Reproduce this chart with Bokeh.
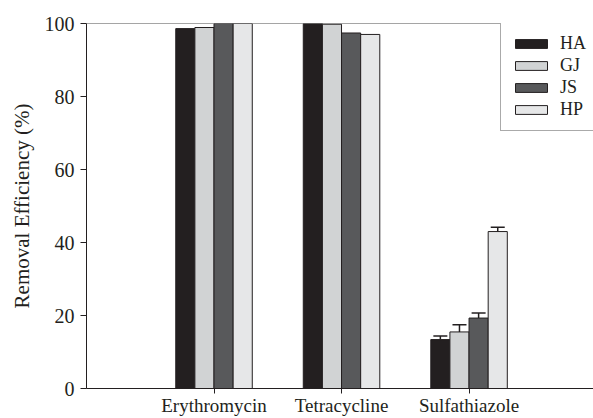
from bokeh.plotting import figure
from bokeh.models import Range1d, FixedTicker, ColumnDataSource, Legend, LegendItem, Span, Whisker, TeeHead
from bokeh.embed import file_html
from bokeh.resources import INLINE

drugs = ["Erythromycin", "Tetracycline", "Sulfathiazole"]
series = ["HA", "GJ", "JS", "HP"]
ha = [98.6, 100.0, 13.4]
gj = [98.9, 99.8, 15.5]
js = [100.0, 97.4, 19.3]
hp = [100.0, 97.0, 43.0]
ha_err = [0, 0, 1.0]
gj_err = [0, 0, 2.0]
js_err = [0, 0, 1.4]
hp_err = [0, 0, 1.2]
colors = ["#231f20", "#d1d3d4", "#58595b", "#e6e7e8"]
y_ticks = [0, 20, 40, 60, 80, 100]

values = [ha, gj, js, hp]
errors = [ha_err, gj_err, js_err, hp_err]

FONT = "Liberation Serif"
INK = "#231f20"
bar_w = 0.15

p = figure(width=593, height=418, output_backend="svg", toolbar_location=None,
           x_range=Range1d(0, 3.976), y_range=Range1d(0, 100),
           min_border_left=86, min_border_top=23, min_border_right=0, min_border_bottom=0)
p.grid.visible = False
p.outline_line_color = None
p.background_fill_color = "white"
p.border_fill_color = "white"

xs_base = [i + 1 for i in range(len(drugs))]
items = []
wx, wl, wu = [], [], []
for k, (name, vals, errs, col) in enumerate(zip(series, values, errors, colors)):
    off = (k - 1.5) * bar_w
    xs = [x + off for x in xs_base]
    src = ColumnDataSource(dict(x=xs, top=vals))
    r = p.vbar(x="x", top="top", width=bar_w, bottom=0, source=src,
               fill_color=col, line_color=INK, line_width=1)
    items.append(LegendItem(label=name, renderers=[r]))
    for x, v, e in zip(xs, vals, errs):
        if e > 0:
            wx.append(x); wl.append(v); wu.append(v + e)

wsrc = ColumnDataSource(dict(x=wx, lower=wl, upper=wu))
p.add_layout(Whisker(base="x", lower="lower", upper="upper", source=wsrc,
                     lower_head=None,
                     upper_head=TeeHead(size=14, line_color=INK, line_width=1.5),
                     line_color=INK, line_width=1.5))

p.add_layout(Span(location=100, dimension="width", line_color="#4d4d4d", line_width=1))

legend = Legend(items=items, location=(414, 257), orientation="vertical",
                border_line_color="#555555", border_line_width=1,
                background_fill_color="white", background_fill_alpha=1,
                padding=10, spacing=1, margin=0,
                glyph_width=40, glyph_height=11, label_standoff=9,
                label_text_font=FONT, label_text_font_size="18px",
                label_text_color=INK, label_height=21, label_width=40)
p.add_layout(legend)

p.xaxis.ticker = FixedTicker(ticks=xs_base)
p.xaxis.major_label_overrides = {x: d for x, d in zip(xs_base, drugs)}
p.yaxis.ticker = FixedTicker(ticks=y_ticks)
p.yaxis.axis_label = "Removal Efficiency (%)"

for ax in (p.xaxis[0], p.yaxis[0]):
    ax.axis_line_color = INK
    ax.axis_line_width = 1
    ax.major_tick_line_color = INK
    ax.major_tick_in = 0
    ax.minor_tick_line_color = None
    ax.major_label_text_font = FONT
    ax.major_label_text_color = INK

p.xaxis.major_label_text_font_size = "19px"
p.yaxis.major_label_text_font_size = "20px"
p.xaxis.major_tick_out = 5
p.xaxis.major_label_standoff = 1
p.yaxis.major_tick_out = 6
p.yaxis.major_label_standoff = 6
p.yaxis.axis_label_text_font = FONT
p.yaxis.axis_label_text_font_size = "21px"
p.yaxis.axis_label_text_font_style = "normal"
p.yaxis.axis_label_text_color = INK
p.yaxis.axis_label_standoff = 8

open("out.html", "w").write(file_html(p, INLINE))
